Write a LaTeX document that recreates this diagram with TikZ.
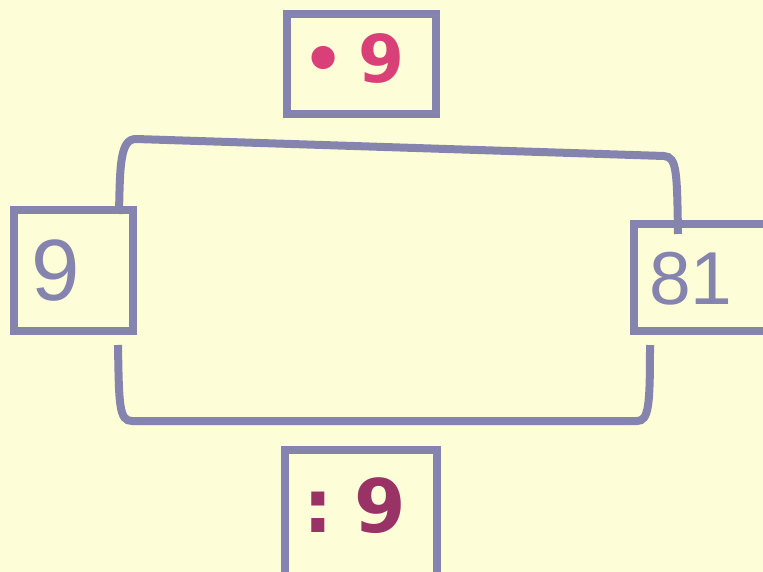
\documentclass[tikz,border=0pt]{standalone}
\usepackage{fontspec}
\setmainfont{Liberation Sans}
\newfontfamily\boldfont{DejaVu Sans}
\definecolor{bg}{RGB}{253,253,216}
\definecolor{frame}{RGB}{132,132,174}
\definecolor{pinkc}{RGB}{217,64,119}
\definecolor{plum}{RGB}{153,51,102}
\tikzset{
  boxframe/.style={draw=frame, line width=8pt},
  conn/.style={draw=frame, line width=8pt},
  numtxt/.style={text=frame, inner sep=0pt, anchor=base west},
  boldtxt/.style={inner sep=0pt, anchor=base west, font=\boldfont\bfseries\fontsize{66}{66}\selectfont}
}
\begin{document}
\begin{tikzpicture}[x=1pt,y=-1pt]
\fill[bg] (0,0) rectangle (763,572);
\useasboundingbox (0,0) rectangle (763,572);
% boxes
\draw[boxframe] (287,14) rectangle (436,114);
\draw[boxframe] (14,210) rectangle (133,331);
\draw[boxframe] (634,224) rectangle (775,331);
\draw[boxframe] (285,450) rectangle (437,585);
% texts
\node[numtxt, font=\fontsize{87}{87}\selectfont] (nine) at (31,300) {9};
\node[numtxt, font=\fontsize{75}{75}\selectfont] (eightyone) at (649,304) {81};
\node[boldtxt, text=pinkc] (mul) at (302,83) {•\hspace{14pt}9};
\node[boldtxt, text=plum, font=\boldfont\bfseries\fontsize{74}{74}\selectfont] (dv) at (303,532) {:\hspace{22pt}9};
% connector anchors
\coordinate (ta) at (119,214);
\coordinate (tb) at (678,234);
\coordinate (ba) at (118,345);
\coordinate (bb) at (650,345);
\draw[conn] (ta) .. controls (120,165) and (120,139) .. (136,139) -- (664,156) .. controls (677,157) and (677,172) .. (tb);
\draw[conn] (ba) .. controls (119,405) and (119,421) .. (132,421) -- (637,421) .. controls (649,421) and (650,405) .. (bb);
\end{tikzpicture}
\end{document}
